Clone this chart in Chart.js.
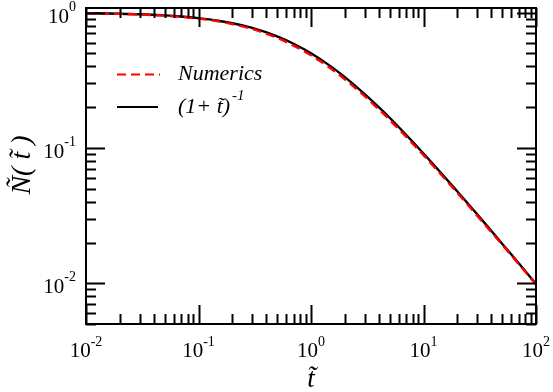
<!DOCTYPE html>
<html>
<head>
    <title>N(t) log-log</title>
    <script src="https://cdn.jsdelivr.net/npm/chart.js@4.4.1/dist/chart.umd.min.js"></script>
</head>

<style>
    body {
        margin: 0;
        background: #ffffff;
    }

    .chart-container {
        width: 553px;
        height: 392px;
        position: relative;
    }
</style>

<body>
    <div class="chart-container"><canvas id="myChart"></canvas></div>

    <script>

// données
    const tValues = [0.01, 0.02, 0.03, 0.05, 0.07, 0.1, 0.15, 0.2, 0.3, 0.5, 0.7, 1, 1.5, 2, 3, 4, 5, 7, 10, 15, 20, 30, 40, 50, 70, 100];
    const numerics = [0.989, 0.978, 0.967, 0.948, 0.928, 0.902, 0.861, 0.822, 0.755, 0.650, 0.570, 0.483, 0.386, 0.321, 0.241, 0.193, 0.161, 0.121, 0.0884, 0.0609, 0.0465, 0.0316, 0.0239, 0.0193, 0.0139, 0.0098];
    const exact = [0.990, 0.980, 0.971, 0.952, 0.935, 0.909, 0.870, 0.833, 0.769, 0.667, 0.588, 0.500, 0.400, 0.333, 0.250, 0.200, 0.167, 0.125, 0.0909, 0.0625, 0.0476, 0.0323, 0.0244, 0.0196, 0.0141, 0.0099];
    const xDecades = [-2, -1, 0, 1, 2];
    const yDecades = [-2, -1, 0];

    const serif = '"Liberation Serif", "DejaVu Serif", serif';

// dessine cadre, ticks, labels et légende
    const frame = {
        id: 'frame',
        afterDraw(chart) {
            const ctx = chart.ctx;
            const area = chart.chartArea;
            const xs = chart.scales.x;
            const ys = chart.scales.y;
            const major = 19, minor = 10;

            ctx.save();
            ctx.strokeStyle = '#000';
            ctx.fillStyle = '#000';
            ctx.lineWidth = 2;
            ctx.strokeRect(area.left, area.top, area.right - area.left, area.bottom - area.top);

            function tick(x1, y1, x2, y2) {
                ctx.beginPath();
                ctx.moveTo(x1, y1);
                ctx.lineTo(x2, y2);
                ctx.stroke();
            }

            // ticks axe x (bas et haut)
            xDecades.forEach(d => {
                for (let m = 1; m < 10; m++) {
                    const v = m * Math.pow(10, d);
                    if (v < xs.min * 0.999 || v > xs.max * 1.001) continue;
                    const px = Math.round(xs.getPixelForValue(v)) + 0.5;
                    const len = (m === 1) ? major : minor;
                    tick(px, area.bottom, px, area.bottom - len);
                    tick(px, area.top, px, area.top + len);
                }
            });
            // ticks axe y (gauche et droite)
            [-3].concat(yDecades).forEach(d => {
                for (let m = 1; m < 10; m++) {
                    const v = m * Math.pow(10, d);
                    if (v < ys.min * 0.999 || v > ys.max * 1.001) continue;
                    const py = Math.round(ys.getPixelForValue(v)) + 0.5;
                    const len = (m === 1) ? major : minor;
                    tick(area.left, py, area.left + len, py);
                    tick(area.right, py, area.right - len, py);
                }
            });

            // labels 10^n
            const big = '21px ' + serif;
            const small = '14px ' + serif;
            ctx.textBaseline = 'alphabetic';
            xDecades.forEach(d => {
                const px = xs.getPixelForValue(Math.pow(10, d));
                ctx.font = big;
                const w1 = ctx.measureText('10').width;
                ctx.font = small;
                const w2 = ctx.measureText(String(d)).width;
                const x0 = px - (w1 + w2) / 2;
                ctx.font = big;
                ctx.textAlign = 'left';
                ctx.fillText('10', x0, 357);
                ctx.font = small;
                ctx.fillText(String(d), x0 + w1, 346);
            });
            yDecades.forEach(d => {
                const py = ys.getPixelForValue(Math.pow(10, d));
                ctx.font = small;
                const w2 = ctx.measureText(String(d)).width;
                ctx.font = big;
                const w1 = ctx.measureText('10').width;
                const x0 = area.left - 10 - w1 - w2;
                ctx.textAlign = 'left';
                ctx.fillText('10', x0, py + 10);
                ctx.font = small;
                ctx.fillText(String(d), x0 + w1, py - 2);
            });

            // titres des axes
            ctx.font = 'italic 27px ' + serif;
            ctx.textAlign = 'center';
            ctx.fillText('t\u0303', (area.left + area.right) / 2, 387);
            ctx.save();
            ctx.translate(30, 165);
            ctx.rotate(-Math.PI / 2);
            ctx.font = 'italic 28px ' + serif;
            ctx.fillText('\u00d1( t\u0303 )', 0, 0);
            ctx.restore();

            // légende
            ctx.lineWidth = 2.2;
            ctx.strokeStyle = '#ff0000';
            ctx.setLineDash([9, 5]);
            tick(117, 74.5, 160, 74.5);
            ctx.setLineDash([]);
            ctx.strokeStyle = '#000';
            tick(117, 107, 158, 107);
            ctx.font = 'italic 22px ' + serif;
            ctx.textAlign = 'left';
            ctx.fillText('Numerics', 178, 80);
            const lab = '(1+ t\u0303)';
            ctx.fillText(lab, 178, 113);
            const wl = ctx.measureText(lab).width;
            ctx.font = 'italic 15px ' + serif;
            ctx.fillText('-1', 178 + wl + 2, 100);

            ctx.restore();
        }
    };

// tracé du graphe
    const ctx = document.getElementById('myChart').getContext('2d');
    const myChart = new Chart(ctx, {
        type: 'scatter',
        data: {
            datasets: [{
                label: 'Numerics',
                data: tValues.map((t, i) => ({x: t, y: numerics[i]})),
                showLine: true,
                borderColor: '#ff0000',
                borderWidth: 2.4,
                borderDash: [9, 5],
                pointRadius: 0,
                cubicInterpolationMode: 'monotone'
            }, {
                label: '(1+t)^-1',
                data: tValues.map((t, i) => ({x: t, y: exact[i]})),
                showLine: true,
                borderColor: '#000000',
                borderWidth: 2.4,
                pointRadius: 0,
                cubicInterpolationMode: 'monotone'
            }]
        },
        plugins: [frame],
        options: {
            responsive: true,
            maintainAspectRatio: false,
            animation: false,
            layout: {
                padding: {left: 86, right: 17, top: 8, bottom: 68}
            },
            plugins: {
                legend: {display: false},
                tooltip: {enabled: false}
            },
            scales: {
                x: {
                    type: 'logarithmic',
                    min: 0.01,
                    max: 100,
                    display: false
                },
                y: {
                    type: 'logarithmic',
                    min: 0.005,
                    max: 1.08,
                    display: false
                }
            }
        }
    });

    </script>
</body>
</html>
